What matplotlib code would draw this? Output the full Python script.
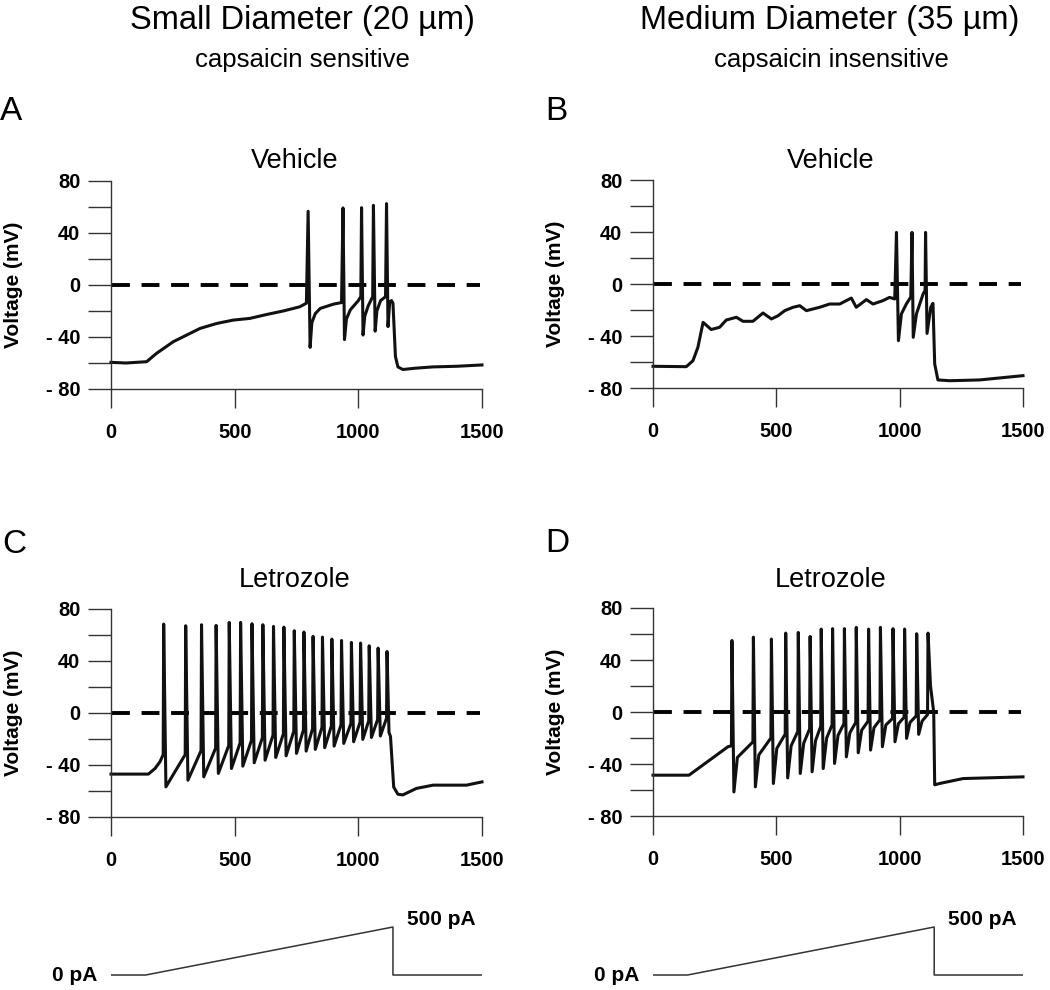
import matplotlib
matplotlib.use('Agg')
import matplotlib.pyplot as plt
from matplotlib.ticker import FixedLocator, FuncFormatter

plt.rcParams['font.family'] = ['Liberation Sans', 'DejaVu Sans']

# ---- data (time in ms, voltage in mV) ----
# A: small diameter, vehicle
a_t = [0, 60, 144, 184, 252, 306, 360, 427, 494, 561, 629, 696, 763, 790,
       797, 805, 812, 826, 846, 900, 932,
       938, 944, 952, 968, 1000, 1010,
       1013, 1019, 1026, 1040, 1058,
       1061, 1068, 1075, 1090, 1110,
       1114, 1120, 1127, 1134, 1140, 1150, 1160, 1180, 1230, 1302, 1400, 1500]
a_v = [-59.5, -60, -59, -52.6, -43.6, -38.5, -33.4, -29.6, -27, -25.7, -22.7, -20, -16.8, -14,
       56.7, -48, -29, -22, -18, -14.7, -13.5,
       59.3, -42, -26, -19, -12, -9,
       59.5, -38.5, -24, -16, -9,
       61.3, -35.5, -20, -12, -9,
       62.6, -32, -13, -12, -14, -55, -63, -65, -64, -63, -62.5, -61.5]

# B: medium diameter, vehicle
b_t = [0, 135, 162, 182, 203, 236, 270, 297, 338, 365, 405, 446, 480, 507, 534,
       568, 595, 622, 676, 716, 757, 804, 824, 865, 892, 932, 959, 980,
       987, 995, 1007, 1027, 1045,
       1050, 1055, 1068, 1095, 1103,
       1105, 1111, 1126, 1135, 1142, 1155, 1203, 1324, 1500]
b_v = [-63.3, -63.6, -59, -48.7, -29.5, -35, -33.3, -27.7, -25.6, -28.7, -28.7, -22.3, -26.9, -24.4, -20.5,
       -17.9, -16.7, -20.5, -17.9, -15.4, -15.4, -10.8, -17.9, -12, -15.4, -12.8, -10.3, -11.5,
       39.7, -43.6, -23, -15.4, -10,
       39.7, -41, -23, -7.7, -5,
       39.7, -38, -17.9, -14.9, -61.5, -73.8, -74.4, -73.8, -70.5]

# C: small diameter, letrozole
c_pre_t = [0, 151, 178, 198]
c_pre_v = [-47, -47, -42.7, -37.5]
c_spike_t = [213, 302, 366, 425, 478, 524, 570, 614, 657, 699, 741, 780, 817,
             855, 893, 932, 972, 1009, 1044, 1080, 1116]
c_peak = [68.4, 67.1, 67.9, 67.4, 69.7, 69.7, 68.7, 67.9, 66.6, 66.1, 63.3, 62.3,
          58.9, 58.4, 56.9, 55.8, 54.3, 53.8, 51.7, 49.9, 47.3]
c_thr = [-32, -32, -29, -27, -25, -23, -21, -19, -17, -16, -14, -13, -12, -11,
         -10, -9, -8, -7, -6, -5, -4]
c_trough = [-56.8, -51.7, -49.1, -46.5, -42.7, -40.9, -38.3, -36.3, -34.2, -32.9,
            -31.1, -29.3, -28, -26.7, -25.5, -23.4, -22.1, -20.3, -18.8, -17.7]
c_post_t = [1124, 1130, 1143, 1160, 1180, 1235, 1302, 1437, 1500]
c_post_v = [-15, -18, -57, -62.5, -63, -58, -55.5, -55.5, -53]

# D: medium diameter, letrozole
d_pre_t = [0, 146, 304]
d_pre_v = [-48.6, -48.6, -26.7]
d_spike_t = [320, 407, 480, 538, 589, 637, 682, 728, 776, 824, 874, 922, 973,
             1020, 1069, 1115]
d_peak = [55, 57.6, 56.1, 60.7, 61.2, 58.1, 63.8, 64.1, 64.1, 65.1, 63.8, 65.1,
          64.1, 63.8, 60.2, 60.7]
d_thr = [-26, -23, -20, -17, -15, -13, -11, -10, -9, -8, -7, -6, -5, -4, -3, -2]
d_trough = [-61.5, -57.6, -55, -50.7, -47.3, -46, -43.5, -39.6, -34.5, -31.4,
            -29.3, -26.7, -22.9, -20.3, -17.2]
d_knee = [-35, -33, -28, -26, -24, -22, -20, -18, -16, -14, -12, -10, -9, -8, -7]
d_post_t = [1125, 1138, 1142, 1162, 1257, 1500]
d_post_v = [20, 0, -56, -55, -51.2, -49.9]

# current ramp
ramp_t = [0, 140, 1140, 1140, 1500]
ramp_i = [0, 0, 500, 0, 0]

x_ticks = [0, 500, 1000, 1500]
y_major = [-80, -40, 0, 40, 80]
y_minor = [-60, -20, 20, 60]


def spike_train(pre_t, pre_v, spk_t, peak, thr, trough, post_t, post_v,
                rise=2, fall=8, knee=None, knee_dt=14):
    t = list(pre_t)
    v = list(pre_v)
    for i, ts in enumerate(spk_t):
        t += [ts - rise, ts]
        v += [thr[i], peak[i]]
        if i < len(trough):
            t.append(ts + fall)
            v.append(trough[i])
            if knee is not None:
                t.append(ts + fall + knee_dt)
                v.append(knee[i])
    return t + list(post_t), v + list(post_v)


c_t, c_v = spike_train(c_pre_t, c_pre_v, c_spike_t, c_peak, c_thr, c_trough,
                       c_post_t, c_post_v, rise=2, fall=9)
d_t, d_v = spike_train(d_pre_t, d_pre_v, d_spike_t, d_peak, d_thr, d_trough,
                       d_post_t, d_post_v, rise=2, fall=8, knee=d_knee)

W, H = 1050, 990
AX_COL = '#333333'


def box(left, top, right, bottom):
    return [left / W, 1 - bottom / H, (right - left) / W, (bottom - top) / H]


def neg_fmt(v, pos):
    return f'- {abs(int(v))}' if v < 0 else f'{int(v)}'


def voltage_axes(fig, rect, t, v, title, title_x, title_base):
    ax = fig.add_axes(rect)
    ax.hlines(0, 5, 1490, colors='black', lw=2.8, linestyles=(0, (4.6, 3.0)))
    ax.plot(t, v, color='#111111', lw=2.2, solid_joinstyle='round', clip_on=False)
    ax.set_xlim(0, 1500)
    ax.set_ylim(-80, 80)
    for s in ['top', 'right']:
        ax.spines[s].set_visible(False)
    for s in ['left', 'bottom']:
        ax.spines[s].set_color(AX_COL)
        ax.spines[s].set_linewidth(1.0)
    ax.xaxis.set_major_locator(FixedLocator(x_ticks))
    ax.yaxis.set_major_locator(FixedLocator(y_major))
    ax.yaxis.set_minor_locator(FixedLocator(y_minor))
    ax.yaxis.set_major_formatter(FuncFormatter(neg_fmt))
    ax.tick_params(axis='x', length=13.7, width=1.0, color=AX_COL, pad=11,
                   labelsize=14.5)
    ax.tick_params(axis='y', which='both', length=16.5, width=1.0, color=AX_COL,
                   pad=5.5, labelsize=14.5)
    for lab in ax.get_xticklabels() + ax.get_yticklabels():
        lab.set_fontweight('bold')
    ax.set_ylabel('Voltage (mV)', fontsize=15, fontweight='bold')
    ax.yaxis.set_label_coords(-0.237, 0.5)
    fig.text(title_x / W, 1 - title_base / H, title, fontsize=19.5,
             ha='center', va='baseline')
    return ax


def ramp_axes(fig, rect):
    ax = fig.add_axes(rect)
    ax.plot(ramp_t, ramp_i, color='#333333', lw=1.1)
    ax.set_xlim(0, 1500)
    ax.set_ylim(-104, 625)
    ax.axis('off')
    ax.text(-55, 0, '0 pA', ha='right', va='center', fontsize=15,
            fontweight='bold', clip_on=False)
    ax.text(1195, 575, '500 pA', ha='left', va='center', fontsize=15,
            fontweight='bold', clip_on=False)
    return ax


fig = plt.figure(figsize=(10.5, 9.9), dpi=100)

voltage_axes(fig, box(111, 181, 482, 389), a_t, a_v, 'Vehicle', 295, 168)
voltage_axes(fig, box(653, 180, 1023, 388), b_t, b_v, 'Vehicle', 831, 168)
voltage_axes(fig, box(111, 609, 482, 817), c_t, c_v, 'Letrozole', 295, 587)
voltage_axes(fig, box(653, 608, 1023, 816), d_t, d_v, 'Letrozole', 831, 587)

ramp_axes(fig, box(111, 915, 482, 985))
ramp_axes(fig, box(653, 915, 1023, 985))

# column headers
fig.text(302 / W, 1 - 21 / H, 'Small Diameter (20 \u00b5m)', fontsize=23.5,
         ha='center', va='center')
fig.text(830 / W, 1 - 21 / H, 'Medium Diameter (35 \u00b5m)', fontsize=23.5,
         ha='center', va='center')
fig.text(302 / W, 1 - 60 / H, 'capsaicin sensitive', fontsize=18.5,
         ha='center', va='center')
fig.text(831 / W, 1 - 60 / H, 'capsaicin insensitive', fontsize=18.5,
         ha='center', va='center')

# panel letters
for letter, x, y in [('A', 0, 120), ('B', 545, 120), ('C', 2, 553), ('D', 545, 552)]:
    fig.text(x / W, 1 - y / H, letter, fontsize=24, ha='left', va='baseline')

fig.savefig('out.png', dpi=100)
